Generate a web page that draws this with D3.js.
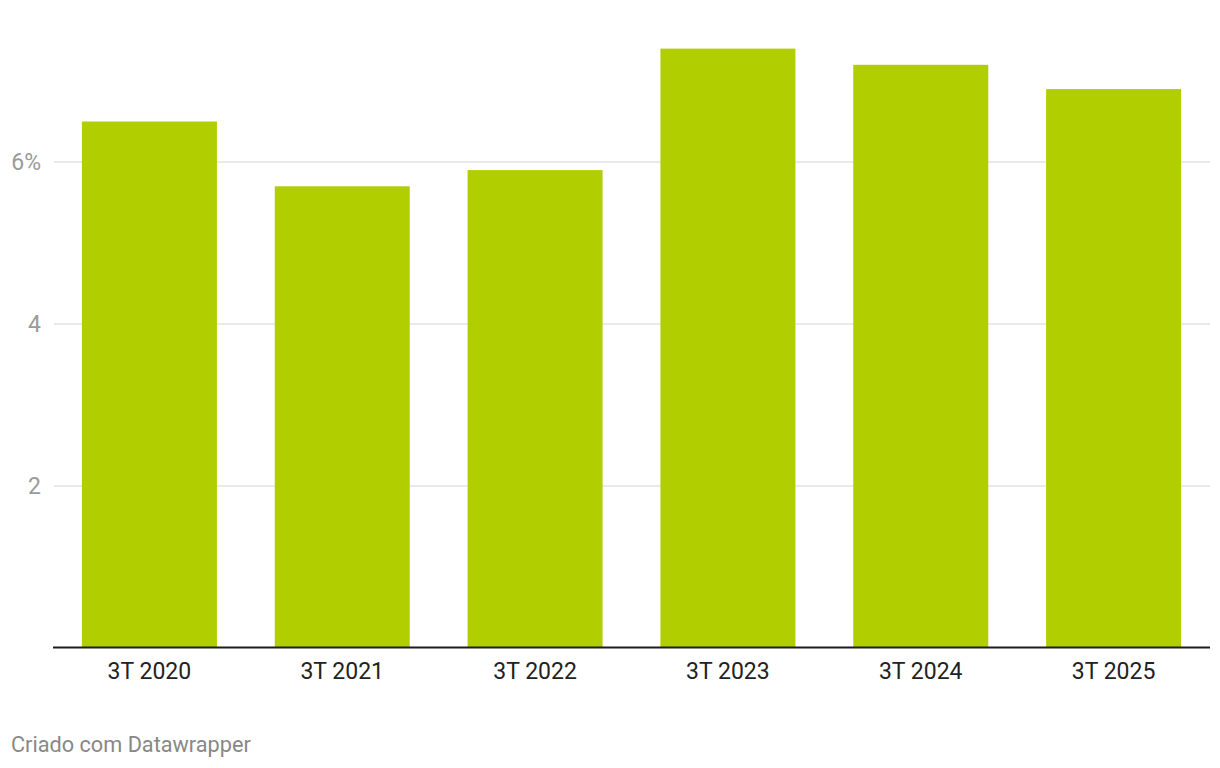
<!DOCTYPE html>
<meta charset="utf-8">
<style>
body {
  margin: 0;
  background: #fff;
  font-family: Roboto, "Open Sans", sans-serif;
}
.grid line {
  stroke: #e3e3e3;
  stroke-width: 1.5px;
}
.ylabel {
  fill: #9a9a9a;
  font-size: 23px;
}
.xlabel {
  fill: #222;
  font-size: 23px;
}
.footer {
  fill: #888;
  font-size: 21.7px;
}
</style>
<body>
<svg id="chart" width="1220" height="768"></svg>

<script src="https://d3js.org/d3.v7.min.js"></script>
<script>

var categories = ["3T 2020", "3T 2021", "3T 2022", "3T 2023", "3T 2024", "3T 2025"];
var values = [6.5, 5.7, 5.9, 7.4, 7.2, 6.9];
var yTicks = [2, 4, 6];
var tickLabels = ["2", "4", "6%"];

var svg = d3.select("#chart");

var x = d3.scaleBand()
    .domain(categories)
    .range([53, 1210])
    .paddingInner(0.3)
    .paddingOuter(0.15);

var y = d3.scaleLinear()
    .domain([0, 8])
    .range([648, 0]);

// gridlines
svg.append("g")
    .attr("class", "grid")
  .selectAll("line")
  .data(yTicks)
  .enter().append("line")
    .attr("x1", 54)
    .attr("x2", 1210)
    .attr("y1", function(d) { return y(d); })
    .attr("y2", function(d) { return y(d); });

svg.append("g")
  .selectAll("text")
  .data(yTicks)
  .enter().append("text")
    .attr("class", "ylabel")
    .attr("x", 41)
    .attr("y", function(d) { return y(d); })
    .attr("dy", "0.36em")
    .attr("text-anchor", "end")
    .text(function(d, i) { return tickLabels[i]; });

// bars
svg.append("g")
  .selectAll("rect")
  .data(values)
  .enter().append("rect")
    .attr("x", function(d, i) { return x(categories[i]); })
    .attr("width", x.bandwidth())
    .attr("y", function(d) { return y(d); })
    .attr("height", function(d) { return y(0) - y(d); })
    .attr("fill", "#b1cf00");

// baseline
svg.append("line")
    .attr("x1", 53)
    .attr("x2", 1210)
    .attr("y1", y(0) - 0.5)
    .attr("y2", y(0) - 0.5)
    .attr("stroke", "#1d1d1d")
    .attr("stroke-width", 2);

svg.append("g")
  .selectAll("text")
  .data(categories)
  .enter().append("text")
    .attr("class", "xlabel")
    .attr("x", function(d) { return x(d) + x.bandwidth() / 2; })
    .attr("y", 679)
    .attr("text-anchor", "middle")
    .text(function(d) { return d; });

svg.append("text")
    .attr("class", "footer")
    .attr("x", 11)
    .attr("y", 752)
    .text("Criado com Datawrapper");

</script>
</body>
